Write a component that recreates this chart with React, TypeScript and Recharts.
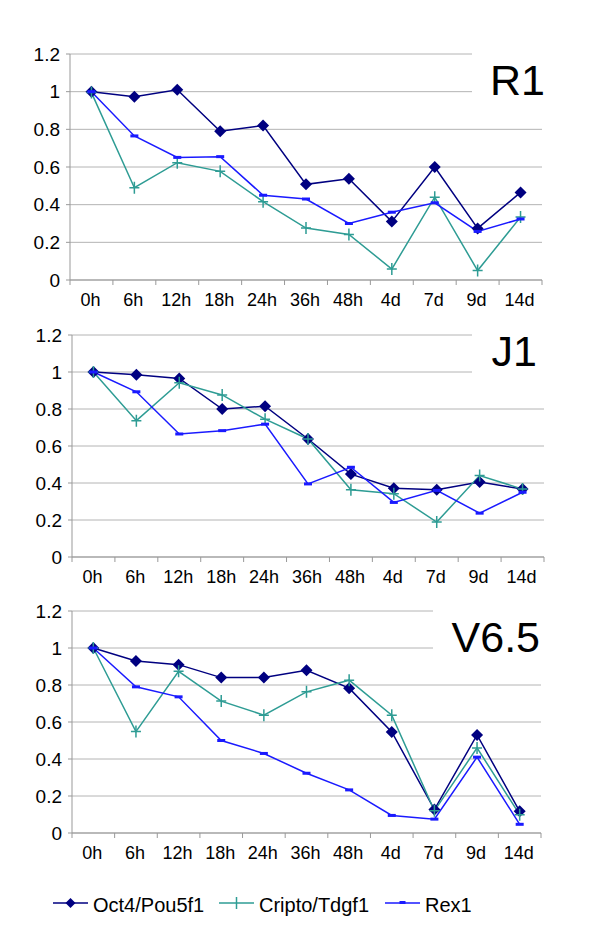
import React from "react";
import { CartesianGrid, Line, LineChart, XAxis, YAxis } from "recharts";

const hours = ["0h", "6h", "12h", "18h", "24h", "36h", "48h", "4d", "7d", "9d", "14d"];
const yTicks = [0, 0.2, 0.4, 0.6, 0.8, 1, 1.2];

const r1Oct4 = [1.0, 0.973, 1.01, 0.79, 0.82, 0.508, 0.538, 0.31, 0.6, 0.274, 0.465];
const r1Cripto = [0.995, 0.49, 0.623, 0.577, 0.416, 0.276, 0.242, 0.058, 0.44, 0.05, 0.334];
const r1Rex1 = [1.0, 0.765, 0.651, 0.655, 0.45, 0.43, 0.3, 0.36, 0.41, 0.258, 0.324];

const j1Oct4 = [1.0, 0.985, 0.965, 0.8, 0.815, 0.638, 0.448, 0.372, 0.363, 0.405, 0.367];
const j1Cripto = [1.0, 0.737, 0.942, 0.876, 0.745, 0.638, 0.363, 0.342, 0.189, 0.44, 0.367];
const j1Rex1 = [1.0, 0.893, 0.665, 0.683, 0.718, 0.395, 0.485, 0.295, 0.36, 0.237, 0.35];

const v65Oct4 = [1.0, 0.93, 0.91, 0.84, 0.84, 0.88, 0.783, 0.546, 0.127, 0.53, 0.117];
const v65Cripto = [1.0, 0.548, 0.874, 0.713, 0.637, 0.763, 0.826, 0.637, 0.12, 0.46, 0.099];
const v65Rex1 = [1.0, 0.79, 0.736, 0.5, 0.43, 0.323, 0.233, 0.095, 0.075, 0.41, 0.047];

const NAVY = "#000080";
const TEAL = "#2e9c94";
const BLUE = "#1a1aff";
const FONT = "'Liberation Sans', Arial, sans-serif";

function buildRows(oct4: number[], cripto: number[], rex1: number[]) {
  return hours.map((h, i) => ({ h, oct4: oct4[i], cripto: cripto[i], rex1: rex1[i] }));
}

const Diamond = (props: any) => {
  const { cx, cy } = props;
  if (cx == null || cy == null) return null;
  return (
    <path
      key={props.index}
      d={`M${cx},${cy - 6}L${cx + 6},${cy}L${cx},${cy + 6}L${cx - 6},${cy}Z`}
      fill={NAVY}
    />
  );
};

const Plus = (props: any) => {
  const { cx, cy } = props;
  if (cx == null || cy == null) return null;
  return (
    <path
      key={props.index}
      d={`M${cx - 5},${cy}H${cx + 5}M${cx},${cy - 6}V${cy + 6}`}
      stroke={TEAL}
      strokeWidth={1.5}
      fill="none"
    />
  );
};

const Dash = (props: any) => {
  const { cx, cy } = props;
  if (cx == null || cy == null) return null;
  return <rect key={props.index} x={cx - 4} y={cy - 1.5} width={8} height={3} fill={BLUE} />;
};

type PanelProps = {
  top: number;
  height: number;
  mTop: number;
  yWidth: number;
  mRight: number;
  rows: any[];
};

const Panel = ({ top, height, mTop, yWidth, mRight, rows }: PanelProps) => {
  const plotW = 600 - yWidth - mRight;
  const band = plotW / hours.length;

  const XTick = (props: any) => {
    const { x, y, payload, index } = props;
    return (
      <g>
        {index === 0 && (
          <line x1={x - band / 2} x2={x - band / 2} y1={y} y2={y + 5} stroke="#999" />
        )}
        <line x1={x + band / 2} x2={x + band / 2} y1={y} y2={y + 5} stroke="#999" />
        <text x={x - 1} y={y + 26} textAnchor="middle" fontSize={18} fill="#000" fontFamily={FONT}>
          {payload.value}
        </text>
      </g>
    );
  };

  return (
    <div style={{ position: "absolute", left: 0, top }}>
      <LineChart
        width={600}
        height={height}
        data={rows}
        margin={{ top: mTop, right: mRight, bottom: 5, left: 0 }}
        style={{ fontFamily: FONT }}
      >
        <CartesianGrid vertical={false} stroke="#b4b4b4" />
        <XAxis
          dataKey="h"
          padding={{ left: band / 2, right: band / 2 }}
          height={30}
          tickSize={0}
          tickMargin={0}
          tickLine={false}
          axisLine={{ stroke: "#999" }}
          tick={<XTick />}
          interval={0}
        />
        <YAxis
          width={yWidth}
          domain={[0, 1.2]}
          ticks={yTicks}
          tickSize={4}
          tickMargin={6}
          axisLine={{ stroke: "#999" }}
          tickLine={{ stroke: "#999" }}
          tick={{ fontSize: 19, fill: "#000", fontFamily: FONT }}
        />
        <Line dataKey="oct4" stroke={NAVY} strokeWidth={1.5} dot={<Diamond />} isAnimationActive={false} />
        <Line dataKey="cripto" stroke={TEAL} strokeWidth={1.5} dot={<Plus />} isAnimationActive={false} />
        <Line dataKey="rex1" stroke={BLUE} strokeWidth={1.5} dot={<Dash />} isAnimationActive={false} />
      </LineChart>
    </div>
  );
};

const legendItems = [
  { name: "Oct4/Pou5f1", color: NAVY, x: 53, kind: "diamond" },
  { name: "Cripto/Tdgf1", color: TEAL, x: 219, kind: "plus" },
  { name: "Rex1", color: BLUE, x: 385, kind: "dash" },
];

export default function App() {
  return (
    <div style={{ position: "absolute", left: 0, top: 0, width: 600, height: 943, background: "#fff" }}>
      <Panel top={0} height={315} mTop={54} yWidth={70} mRight={58} rows={buildRows(r1Oct4, r1Cripto, r1Rex1)} />
      <Panel top={300} height={292} mTop={35} yWidth={72} mRight={56} rows={buildRows(j1Oct4, j1Cripto, j1Rex1)} />
      <Panel top={580} height={288} mTop={31} yWidth={72} mRight={59} rows={buildRows(v65Oct4, v65Cripto, v65Rex1)} />
      <svg
        width={600}
        height={943}
        style={{ position: "absolute", left: 0, top: 0, pointerEvents: "none" }}
        fontFamily={FONT}
      >
        <rect x={472} y={44} width={76} height={54} fill="#fff" />
        <text x={545} y={95} fontSize={43} textAnchor="end" fill="#000">R1</text>
        <rect x={472} y={326} width={76} height={52} fill="#fff" />
        <text x={537} y={366} fontSize={43} textAnchor="end" fill="#000">J1</text>
        <rect x={433} y={603} width={115} height={50} fill="#fff" />
        <text x={540} y={652} fontSize={43} textAnchor="end" fill="#000">V6.5</text>
        {legendItems.map((it) => {
          const cx = it.x + 17.5;
          const cy = 903;
          return (
            <g key={it.name}>
              <line x1={it.x} x2={it.x + 35} y1={cy} y2={cy} stroke={it.color} strokeWidth={1.5} />
              {it.kind === "diamond" && (
                <path d={`M${cx},${cy - 5}L${cx + 5},${cy}L${cx},${cy + 5}L${cx - 5},${cy}Z`} fill={it.color} />
              )}
              {it.kind === "plus" && (
                <path d={`M${cx},${cy - 6}V${cy + 6}`} stroke={it.color} strokeWidth={1.5} />
              )}
              {it.kind === "dash" && <rect x={cx - 3} y={cy - 2} width={6} height={3} fill={it.color} />}
              <text x={it.x + 40} y={cy + 9} fontSize={20} fill="#000">{it.name}</text>
            </g>
          );
        })}
      </svg>
    </div>
  );
}
